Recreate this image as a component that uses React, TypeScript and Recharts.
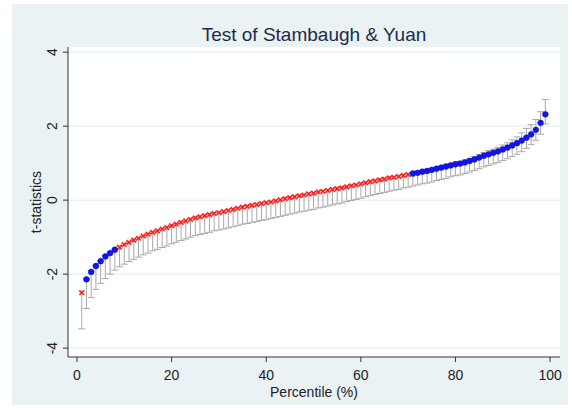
import { ScatterChart, Scatter, XAxis, YAxis, CartesianGrid, ErrorBar } from 'recharts';

// t-statistics by percentile (1..99)
const tStat = [
  -2.50, -2.14, -1.94, -1.78, -1.65, -1.52, -1.43, -1.34, -1.27, -1.20,
  -1.14, -1.08, -1.03, -0.97, -0.92, -0.87, -0.83, -0.78, -0.74, -0.69,
  -0.65, -0.60, -0.56, -0.52, -0.48, -0.45, -0.42, -0.39, -0.36, -0.34,
  -0.31, -0.28, -0.25, -0.22, -0.19, -0.17, -0.14, -0.12, -0.09, -0.07,
  -0.05, -0.02, 0.01, 0.04, 0.07, 0.09, 0.12, 0.14, 0.17, 0.19,
  0.22, 0.24, 0.26, 0.29, 0.31, 0.33, 0.36, 0.39, 0.41, 0.44,
  0.47, 0.50, 0.52, 0.55, 0.57, 0.60, 0.62, 0.64, 0.67, 0.69,
  0.72, 0.74, 0.77, 0.79, 0.82, 0.85, 0.88, 0.91, 0.94, 0.97,
  0.99, 1.02, 1.06, 1.10, 1.15, 1.20, 1.24, 1.28, 1.32, 1.37,
  1.42, 1.48, 1.54, 1.61, 1.69, 1.78, 1.90, 2.09, 2.32,
];

// distance from the point down to the lower cap
const errDown = [
  0.98, 0.79, 0.69, 0.63, 0.60, 0.60, 0.57, 0.55, 0.53, 0.53,
  0.52, 0.52, 0.51, 0.51, 0.51, 0.50, 0.50, 0.50, 0.50, 0.49,
  0.49, 0.49, 0.49, 0.48, 0.48, 0.48, 0.48, 0.48, 0.47, 0.47,
  0.47, 0.47, 0.47, 0.47, 0.46, 0.46, 0.46, 0.46, 0.46, 0.46,
  0.45, 0.45, 0.45, 0.45, 0.45, 0.44, 0.44, 0.44, 0.44, 0.44,
  0.43, 0.43, 0.42, 0.42, 0.41, 0.41, 0.40, 0.40, 0.39, 0.39,
  0.38, 0.38, 0.37, 0.37, 0.36, 0.36, 0.35, 0.35, 0.34, 0.34,
  0.34, 0.33, 0.33, 0.33, 0.33, 0.32, 0.32, 0.32, 0.31, 0.31,
  0.31, 0.30, 0.30, 0.30, 0.30, 0.30, 0.30, 0.30, 0.30, 0.30,
  0.30, 0.30, 0.30, 0.30, 0.29, 0.28, 0.28, 0.31, 0.26,
];

// distance from the point up to the upper cap
const errUp = [
  0.02, 0.02, 0.02, 0.02, 0.02, 0.02, 0.02, 0.02, 0.02, 0.02,
  0.02, 0.02, 0.02, 0.02, 0.02, 0.02, 0.02, 0.02, 0.02, 0.02,
  0.02, 0.02, 0.02, 0.02, 0.02, 0.02, 0.02, 0.02, 0.02, 0.02,
  0.02, 0.02, 0.02, 0.02, 0.02, 0.02, 0.02, 0.02, 0.02, 0.02,
  0.02, 0.02, 0.02, 0.02, 0.02, 0.02, 0.02, 0.02, 0.02, 0.02,
  0.02, 0.02, 0.02, 0.02, 0.02, 0.02, 0.02, 0.02, 0.02, 0.02,
  0.02, 0.02, 0.02, 0.02, 0.02, 0.02, 0.02, 0.02, 0.02, 0.02,
  0.03, 0.03, 0.03, 0.03, 0.03, 0.04, 0.04, 0.05, 0.05, 0.06,
  0.06, 0.07, 0.07, 0.08, 0.09, 0.09, 0.10, 0.10, 0.11, 0.12,
  0.13, 0.15, 0.17, 0.21, 0.25, 0.26, 0.28, 0.30, 0.40,
];

// percentile ranges drawn as blue dots, the rest are red crosses
const blueRanges = [[2, 8], [71, 99]];

const xTicks = [0, 20, 40, 60, 80, 100];
const yTicks = [-4, -2, 0, 2, 4];

const points = tStat.map((t, i) => ({ p: i + 1, t, err: [errDown[i], errUp[i]] }));
const isBlue = (p: number) => blueRanges.some(([a, b]) => p >= a && p <= b);
const bluePts = points.filter((d) => isBlue(d.p));
const redPts = points.filter((d) => !isBlue(d.p));

const FONT = '"Liberation Sans", Arial, sans-serif';
const BAR = '#a9a9a9';

function Cross(props: any) {
  const { cx, cy } = props;
  const s = 2.3;
  return (
    <g stroke="#ff1a1a" strokeWidth={1.5}>
      <line x1={cx - s} y1={cy - s} x2={cx + s} y2={cy + s} />
      <line x1={cx - s} y1={cy + s} x2={cx + s} y2={cy - s} />
    </g>
  );
}

function Dot(props: any) {
  const { cx, cy } = props;
  return <circle cx={cx} cy={cy} r={2.9} fill="#1414ee" stroke="#0a0ab0" strokeWidth={0.5} />;
}

function YTick(props: any) {
  const { x, y, payload } = props;
  const bx = x - 4;
  return (
    <text
      x={bx}
      y={y}
      transform={`rotate(-90 ${bx} ${y})`}
      textAnchor="middle"
      fontSize={14}
      fill="#222"
      fontFamily={FONT}
    >
      {payload.value}
    </text>
  );
}

export default function App() {
  return (
    <div style={{ position: 'absolute', left: 0, top: 0, width: 572, height: 410, background: '#fff' }}>
      <div style={{ position: 'absolute', left: 12, top: 4, width: 556, height: 401, background: '#eaf2f3' }} />
      <div style={{ position: 'absolute', left: 0, top: 0 }}>
        <ScatterChart width={572} height={410} margin={{ top: 47, right: 12, bottom: 28, left: 43 }}>
          <CartesianGrid fill="#fff" stroke="#e4edf0" vertical={false} horizontalValues={yTicks} />
          <XAxis
            type="number"
            dataKey="p"
            domain={[-1.9, 102.1]}
            ticks={xTicks}
            allowDataOverflow
            height={25}
            stroke="#333"
            tickSize={5}
            tick={{ fill: '#222', fontSize: 14, fontFamily: FONT, dy: 6 }}
          />
          <YAxis
            type="number"
            dataKey="t"
            domain={[-4.24, 4.14]}
            ticks={yTicks}
            allowDataOverflow
            width={25}
            stroke="#333"
            tickSize={5}
            tick={<YTick />}
          />
          <text x={314} y={41} textAnchor="middle" fontSize={19} fill="#1c2b4b" fontFamily={FONT}>
            Test of Stambaugh &amp; Yuan
          </text>
          <text x={314} y={397} textAnchor="middle" fontSize={14} fill="#222" fontFamily={FONT}>
            Percentile (%)
          </text>
          <text
            x={41}
            y={202}
            transform="rotate(-90 41 202)"
            textAnchor="middle"
            fontSize={14}
            fill="#222"
            fontFamily={FONT}
          >
            t-statistics
          </text>
          <Scatter data={redPts} shape={<Cross />} isAnimationActive={false}>
            <ErrorBar dataKey="err" direction="y" width={3.5} stroke={BAR} strokeWidth={1} />
          </Scatter>
          <Scatter data={bluePts} shape={<Dot />} isAnimationActive={false}>
            <ErrorBar dataKey="err" direction="y" width={3.5} stroke={BAR} strokeWidth={1} />
          </Scatter>
        </ScatterChart>
      </div>
    </div>
  );
}
